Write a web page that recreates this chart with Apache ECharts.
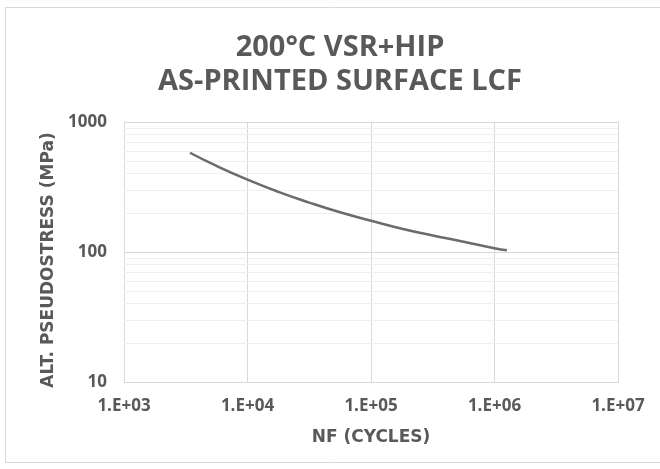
<!DOCTYPE html>
<html>
<head>
<meta charset="utf-8">
<script src="https://cdn.jsdelivr.net/npm/echarts@6/dist/echarts.min.js"></script>
<style>
  html, body { margin: 0; padding: 0; background: #fff; }
  #chart { width: 660px; height: 469px; }
</style>
</head>
<body>
<div id="chart"></div>
<script>
// cycles to failure vs alternating pseudostress
var cycles = [3420, 5620, 10000, 17800, 31600, 56200, 100000, 178000, 316000, 562000, 1000000, 1260000];
var stress = [580, 459, 360, 290, 240, 202, 174, 151, 134, 120, 107, 103];

var xTicks = [1e3, 1e4, 1e5, 1e6, 1e7];
var yTicks = [10, 100, 1000];
var yMinorGrid = [20, 30, 40, 50, 60, 70, 80, 90, 200, 300, 400, 500, 600, 700, 800, 900];

var txt = '#595959';
var font = 'Open Sans';
var nameFont = 'DejaVu Sans';

var chart = echarts.init(document.getElementById('chart'));

function sci(v) {
    var e = Math.round(Math.log10(v));
    return '1.E+' + (e < 10 ? '0' + e : e);
}

var points = cycles.map(function (c, i) { return [c, stress[i]]; });

option = {
    animation: false,
    textStyle: { fontFamily: font },
    graphic: [{
        type: 'rect',
        shape: { x: 5.5, y: 7.5, width: 700, height: 455 },
        style: { fill: 'none', stroke: '#d9d9d9', lineWidth: 1 },
        silent: true
    }],
    title: {
        text: '200°C VSR+HIP\nAS-PRINTED SURFACE LCF',
        left: 335,
        textAlign: 'center',
        top: 25,
        textStyle: {
            color: txt,
            fontSize: 29,
            fontWeight: 'bold',
            lineHeight: 34.5,
            fontFamily: font
        }
    },
    grid: {
        left: 124,
        right: 42,
        top: 122,
        bottom: 87
    },
    xAxis: {
        type: 'log',
        logBase: 10,
        min: 1e3,
        max: 1e7,
        name: 'NF (CYCLES)',
        nameLocation: 'middle',
        nameGap: 47,
        nameTextStyle: { color: txt, fontSize: 17, fontWeight: 'bold', fontFamily: nameFont },
        axisLine: { lineStyle: { color: '#d9d9d9', width: 1 } },
        axisTick: { show: false },
        axisLabel: {
            color: txt,
            fontSize: 17,
            fontWeight: 'bold',
            fontFamily: font,
            margin: 16,
            formatter: function (v) { return sci(v); }
        },
        splitLine: { show: true, lineStyle: { color: '#d9d9d9', width: 1 } }
    },
    yAxis: {
        type: 'log',
        logBase: 10,
        min: 10,
        max: 1000,
        name: 'ALT. PSEUDOSTRESS (MPa)',
        nameLocation: 'middle',
        nameGap: 66,
        nameTextStyle: {
            color: txt, fontSize: 17, fontWeight: 'bold', fontFamily: nameFont,
            padding: [0, 16, 0, 0]
        },
        axisLine: { show: true, lineStyle: { color: '#d9d9d9', width: 1 } },
        axisTick: { show: false },
        axisLabel: {
            color: txt,
            fontSize: 17,
            fontWeight: 'bold',
            fontFamily: font,
            margin: 17,
            formatter: function (v) { return yTicks.indexOf(Math.round(v)) >= 0 ? String(Math.round(v)) : ''; }
        },
        splitLine: { show: true, lineStyle: { color: '#d9d9d9', width: 1 } }
    },
    series: [
        {
            type: 'line',
            data: [],
            z: 1,
            silent: true,
            markLine: {
                z: 1,
                silent: true,
                symbol: ['none', 'none'],
                label: { show: false },
                lineStyle: { color: '#efefef', width: 1, type: 'solid' },
                data: yMinorGrid.map(function (v) { return { yAxis: v }; })
            }
        },
        {
            type: 'line',
            data: points,
            smooth: true,
            showSymbol: false,
            z: 6,
            lineStyle: { color: '#6b6b6b', width: 2.5 }
        }
    ]
};

chart.setOption(option);
</script>
</body>
</html>
